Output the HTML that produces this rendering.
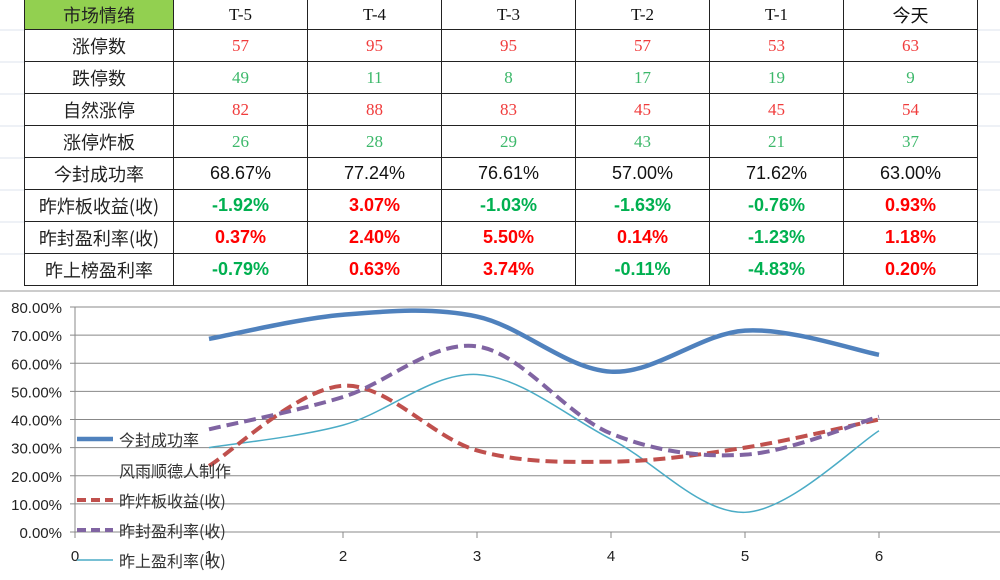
<!DOCTYPE html>
<html><head><meta charset="utf-8"><style>
body{margin:0;width:1000px;height:580px;background:#fff;overflow:hidden;position:relative;font-family:"Liberation Sans","Noto Sans CJK SC",sans-serif}
table{position:absolute;left:24px;top:-1px;border-collapse:collapse}
td{border:1.5px solid #222;height:31px;padding:0;text-align:center;font-size:18px}
tr.top td{height:29px}
td.h{width:148px;font-family:"Noto Sans CJK SC",sans-serif;color:#222}
td.c{width:133px}
.hd{background:#92d050;color:#555}
.serif{font-family:"Liberation Serif","Noto Serif CJK SC",serif;font-size:17px}
.r{color:#f03c3c}.g{color:#3cb86a}
.br{color:#ff0000;font-weight:bold}.bg{color:#00b050;font-weight:bold}
.bk{color:#111}
svg{position:absolute;left:0;top:0}
</style></head><body>
<svg width="1000" height="580">
<g stroke="#dde3ee" stroke-width="1">
<line x1="0" y1="30" x2="24" y2="30"/><line x1="0" y1="62" x2="24" y2="62"/><line x1="0" y1="94" x2="24" y2="94"/><line x1="0" y1="126" x2="24" y2="126"/><line x1="0" y1="158" x2="24" y2="158"/><line x1="0" y1="190" x2="24" y2="190"/><line x1="0" y1="222" x2="24" y2="222"/><line x1="0" y1="254" x2="24" y2="254"/>
<line x1="978" y1="30" x2="1000" y2="30"/><line x1="978" y1="62" x2="1000" y2="62"/><line x1="978" y1="94" x2="1000" y2="94"/><line x1="978" y1="126" x2="1000" y2="126"/><line x1="978" y1="190" x2="1000" y2="190"/><line x1="978" y1="222" x2="1000" y2="222"/><line x1="978" y1="254" x2="1000" y2="254"/>
</g>
<line x1="0" y1="291" x2="1000" y2="291" stroke="#bbb" stroke-width="1.5"/>
</svg>
<table>
<tr class="top"><td class="h hd">市场情绪</td><td class="c serif bk">T-5</td><td class="c serif bk">T-4</td><td class="c serif bk">T-3</td><td class="c serif bk">T-2</td><td class="c serif bk">T-1</td><td class="c bk" style="font-family:'Noto Sans CJK SC',sans-serif">今天</td></tr>
<tr><td class="h">涨停数</td><td class="serif r">57</td><td class="serif r">95</td><td class="serif r">95</td><td class="serif r">57</td><td class="serif r">53</td><td class="serif r">63</td></tr>
<tr><td class="h">跌停数</td><td class="serif g">49</td><td class="serif g">11</td><td class="serif g">8</td><td class="serif g">17</td><td class="serif g">19</td><td class="serif g">9</td></tr>
<tr><td class="h">自然涨停</td><td class="serif r">82</td><td class="serif r">88</td><td class="serif r">83</td><td class="serif r">45</td><td class="serif r">45</td><td class="serif r">54</td></tr>
<tr><td class="h">涨停炸板</td><td class="serif g">26</td><td class="serif g">28</td><td class="serif g">29</td><td class="serif g">43</td><td class="serif g">21</td><td class="serif g">37</td></tr>
<tr><td class="h">今封成功率</td><td class="bk">68.67%</td><td class="bk">77.24%</td><td class="bk">76.61%</td><td class="bk">57.00%</td><td class="bk">71.62%</td><td class="bk">63.00%</td></tr>
<tr><td class="h">昨炸板收益(收)</td><td class="bg">-1.92%</td><td class="br">3.07%</td><td class="bg">-1.03%</td><td class="bg">-1.63%</td><td class="bg">-0.76%</td><td class="br">0.93%</td></tr>
<tr><td class="h">昨封盈利率(收)</td><td class="br">0.37%</td><td class="br">2.40%</td><td class="br">5.50%</td><td class="br">0.14%</td><td class="bg">-1.23%</td><td class="br">1.18%</td></tr>
<tr><td class="h">昨上榜盈利率</td><td class="bg">-0.79%</td><td class="br">0.63%</td><td class="br">3.74%</td><td class="bg">-0.11%</td><td class="bg">-4.83%</td><td class="br">0.20%</td></tr>
</table>
<svg id="chart" width="1000" height="580"></svg>
<script>
const xs=[1,2,3,4,5,6];
const successRate=[68.67,77.24,76.61,57.0,71.62,63.0];
const brokeReturn=[23.5,52,29,25,30,40];
const sealProfit=[36.5,48,66,35,27.5,41];
const listProfit=[30,38,56,33,7,36];
const yTicks=[0,10,20,30,40,50,60,70,80];
const xTicks=[0,1,2,3,4,5,6];
const NS='http://www.w3.org/2000/svg';
const svg=document.getElementById('chart');
const X=v=>75+v*134, Y=v=>532-v*2.8125;
function mk(t,a){const e=document.createElementNS(NS,t);for(const k in a)e.setAttribute(k,a[k]);svg.appendChild(e);return e;}
yTicks.forEach(t=>{
 const l=mk('line',{x1:70,x2:1000,y1:Y(t),y2:Y(t),stroke:'#888','stroke-width':1});
 
 
 const tx=mk('text',{x:62,y:Y(t)+6,'text-anchor':'end','font-size':15,fill:'#222','font-family':'Liberation Sans,sans-serif'});
 tx.textContent=t.toFixed(2)+'%';
 
 
});
mk('line',{x1:75,x2:75,y1:Y(80),y2:Y(0)+6,stroke:'#888'});
xTicks.forEach(t=>{
 mk('line',{x1:X(t),x2:X(t),y1:Y(0),y2:Y(0)+6,stroke:'#888'});
 const tx=mk('text',{x:X(t),y:Y(0)+29,'text-anchor':'middle','font-size':15,fill:'#222','font-family':'Liberation Sans,sans-serif'});
 tx.textContent=t;
 
 
});
function path(vals){
 const p=vals.map((v,i)=>[X(xs[i]),Y(v)]);
 let d='M'+p[0][0]+','+p[0][1];
 for(let i=0;i<p.length-1;i++){
  const p0=p[i-1]||p[i],p1=p[i],p2=p[i+1],p3=p[i+2]||p2;
  const c1=[p1[0]+(p2[0]-p0[0])/6,p1[1]+(p2[1]-p0[1])/6];
  const c2=[p2[0]-(p3[0]-p1[0])/6,p2[1]-(p3[1]-p1[1])/6];
  d+=' C'+c1+' '+c2+' '+p2;
 }
 return d;
}
const series=[
 [listProfit,'#4bacc6',1.5,'','series-list-profit'],
 [brokeReturn,'#c0504d',4,'12,6','series-broke-return'],
 [sealProfit,'#8064a2',4,'12,6','series-seal-profit'],
 [successRate,'#4f81bd',4.5,'','series-success-rate']];
series.forEach(s=>{
 const e=mk('path',{d:path(s[0]),fill:'none',stroke:s[1],'stroke-width':s[2],'stroke-dasharray':s[3]});
 
 
});
const leg=[['今封成功率','#4f81bd',4.5,'',442],['风雨顺德人制作',null,0,'',473],['昨炸板收益(收)','#c0504d',4,'9,5',503],['昨封盈利率(收)','#8064a2',4,'9,5',533],['昨上盈利率(收)','#4bacc6',1.5,'',563]];
leg.forEach(l=>{
 if(l[1])mk('line',{x1:77,x2:113,y1:l[4]-3,y2:l[4]-3,stroke:l[1],'stroke-width':l[2],'stroke-dasharray':l[3]});
 const t=mk('text',{x:119,y:l[4]+4,'font-size':16,fill:'#333','font-family':'Noto Sans CJK SC,sans-serif'});
 t.textContent=l[0];
 
 
});
</script>
</body></html>
